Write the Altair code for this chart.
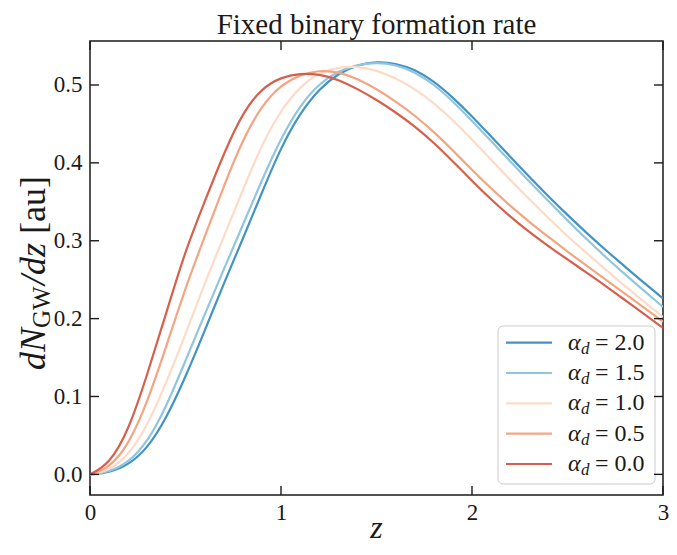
import altair as alt
import pandas as pd

# ---------------- data ----------------
z = [0.0, 0.1, 0.2, 0.3, 0.4, 0.5, 0.6, 0.7, 0.8, 0.9, 1.0,
     1.1, 1.2, 1.3, 1.4, 1.5, 1.6, 1.7, 1.8, 1.9, 2.0,
     2.1, 2.2, 2.3, 2.4, 2.5, 2.6, 2.7, 2.8, 2.9, 3.0]

alphas = ["2.0", "1.5", "1.0", "0.5", "0.0"]
colors = ["#4393c3", "#92c5de", "#fddbc7", "#f4a582", "#d6604d"]

dn_a20 = [0.0, 0.002, 0.012, 0.033, 0.072, 0.125, 0.184, 0.245, 0.302, 0.362, 0.420,
          0.464, 0.495, 0.515, 0.526, 0.530, 0.528, 0.520, 0.505, 0.484, 0.460,
          0.434, 0.408, 0.382, 0.357, 0.333, 0.310, 0.288, 0.267, 0.246, 0.226]
dn_a15 = [0.0, 0.003, 0.015, 0.041, 0.087, 0.146, 0.205, 0.263, 0.320, 0.378, 0.432,
          0.474, 0.502, 0.518, 0.526, 0.529, 0.526, 0.517, 0.501, 0.479, 0.454,
          0.428, 0.402, 0.376, 0.351, 0.326, 0.302, 0.279, 0.257, 0.236, 0.215]
dn_a10 = [0.0, 0.005, 0.024, 0.062, 0.118, 0.180, 0.245, 0.305, 0.365, 0.424, 0.468,
          0.498, 0.516, 0.523, 0.524, 0.519, 0.509, 0.495, 0.477, 0.455, 0.430,
          0.404, 0.378, 0.353, 0.329, 0.306, 0.284, 0.263, 0.242, 0.222, 0.202]
dn_a05 = [0.0, 0.008, 0.037, 0.092, 0.165, 0.240, 0.305, 0.370, 0.430, 0.474, 0.500,
          0.513, 0.519, 0.517, 0.508, 0.495, 0.479, 0.461, 0.440, 0.416, 0.391,
          0.367, 0.345, 0.324, 0.305, 0.286, 0.268, 0.250, 0.232, 0.214, 0.196]
dn_a00 = [0.0, 0.013, 0.055, 0.128, 0.208, 0.288, 0.350, 0.412, 0.465, 0.496, 0.510,
          0.515, 0.514, 0.507, 0.495, 0.481, 0.465, 0.447, 0.426, 0.402, 0.377,
          0.353, 0.331, 0.311, 0.293, 0.276, 0.259, 0.242, 0.224, 0.206, 0.188]

series = [dn_a20, dn_a15, dn_a10, dn_a05, dn_a00]

x_ticks = [0, 1, 2, 3]
y_ticks = [0.0, 0.1, 0.2, 0.3, 0.4, 0.5]
x_domain = [0, 3]
y_domain = [-0.0265, 0.5565]

title_text = "Fixed binary formation rate"
x_title = "z"

# ---------------- tables ----------------
rows = []
for a, vals in zip(alphas, series):
    for zi, v in zip(z, vals):
        rows.append({"alpha": a, "z": zi, "v": v})
df = pd.DataFrame(rows)

leg = pd.DataFrame({"alpha": alphas, "idx": list(range(len(alphas)))})
one = pd.DataFrame({"k": [0]})

W, H = 573, 454
SERIF = "Liberation Serif"
INK = "#1a1a1a"

xs = alt.Scale(domain=x_domain, nice=False, zero=False)
ys = alt.Scale(domain=y_domain, nice=False, zero=False)
cs = alt.Scale(domain=alphas, range=colors)

x_axis = alt.Axis(values=x_ticks, format="d", title=None, labelPadding=6, labelFlush=False)

lines = alt.Chart(df).mark_line(strokeWidth=2.2, interpolate="basis", clip=True).encode(
    x=alt.X("z:Q", scale=xs, axis=x_axis),
    y=alt.Y("v:Q", scale=ys,
            axis=alt.Axis(values=y_ticks, format=".1f", title=None, labelPadding=8,
                          labelFlush=False)),
    color=alt.Color("alpha:N", scale=cs, legend=None),
)

xt = pd.DataFrame({"z": x_ticks})
yt = pd.DataFrame({"t": y_ticks})
TL = 9
tick_bottom = alt.Chart(xt).mark_rule(color=INK, strokeWidth=1.4).encode(
    x=alt.X("z:Q", scale=xs, axis=x_axis), y=alt.value(H), y2=alt.value(H - TL))
tick_top = alt.Chart(xt).mark_rule(color=INK, strokeWidth=1.4).encode(
    x=alt.X("z:Q", scale=xs, axis=x_axis), y=alt.value(0), y2=alt.value(TL))
tick_left = alt.Chart(yt).mark_rule(color=INK, strokeWidth=1.4).encode(
    y=alt.Y("t:Q", scale=ys, axis=None), x=alt.value(0), x2=alt.value(TL))
tick_right = alt.Chart(yt).mark_rule(color=INK, strokeWidth=1.4).encode(
    y=alt.Y("t:Q", scale=ys, axis=None), x=alt.value(W), x2=alt.value(W - TL))

# titles
title = alt.Chart(one).mark_text(text=title_text, font=SERIF, fontSize=29, color=INK,
                                 align="center", baseline="alphabetic").encode(
    x=alt.value(W / 2), y=alt.value(-7))
xlab = alt.Chart(one).mark_text(text=x_title, font=SERIF, fontSize=32, fontStyle="italic",
                                color=INK, align="center", baseline="alphabetic").encode(
    x=alt.value(W / 2), y=alt.value(H + 43))

# y-axis title pieces (rotated, read bottom-to-top)
def ypiece(txt, x, y, size, style):
    return alt.Chart(one).mark_text(text=txt, font=SERIF, fontSize=size, fontStyle=style,
                                    color=INK, angle=270, align="left",
                                    baseline="alphabetic").encode(
        x=alt.value(x), y=alt.value(y))

yt1 = ypiece("dN", -45, 329, 36, "italic")
yt2 = ypiece("GW", -40, 287, 25, "normal")
yt3 = ypiece("/dz", -45, 244, 36, "italic")
yt4 = ypiece("[au]", -45, 193, 36, "normal")

# legend (anchored to the right edge of the plot)
R = W
box = alt.Chart(one).mark_rect(fill="white", fillOpacity=0.8, stroke="#cccccc",
                               strokeWidth=1, cornerRadius=5).encode(
    x=alt.value(R - 165), x2=alt.value(R - 8), y=alt.value(285), y2=alt.value(443))

ly = alt.Y("idx:Q", scale=alt.Scale(domain=[0, 4], range=[301.7, 423]), axis=None)
leg_lines = alt.Chart(leg).mark_rule(strokeWidth=2.2).encode(
    x=alt.value(R - 157), x2=alt.value(R - 111), y=ly,
    color=alt.Color("alpha:N", scale=cs, legend=None))
leg_a = alt.Chart(leg).mark_text(text="α", font=SERIF, fontSize=24, fontStyle="italic",
                                 color=INK, align="left", baseline="alphabetic", dy=7).encode(
    x=alt.value(R - 95), y=ly)
leg_d = alt.Chart(leg).mark_text(text="d", font=SERIF, fontSize=17, fontStyle="italic",
                                 color=INK, align="left", baseline="alphabetic", dy=11).encode(
    x=alt.value(R - 82), y=ly)
leg_v = alt.Chart(leg).transform_calculate(lab="'= ' + datum.alpha").mark_text(
    font=SERIF, fontSize=24, color=INK, align="left", baseline="alphabetic", dy=7).encode(
    x=alt.value(R - 68), y=ly, text="lab:N")

chart = alt.layer(
    lines, box, leg_lines, leg_a, leg_d, leg_v,
    tick_bottom, tick_top, tick_left, tick_right,
    title, xlab, yt1, yt2, yt3, yt4,
).resolve_scale(y="independent").properties(
    width=W, height=H,
    autosize=alt.AutoSizeParams(type="none"),
    padding={"left": 82, "top": 33, "right": 6, "bottom": 51},
).configure_view(
    stroke=INK, strokeWidth=1.5
).configure_axis(
    domain=False, ticks=False, grid=False,
    labelFont=SERIF, labelFontSize=23, labelColor=INK,
)

chart.save("out.html", embed_options={"renderer": "svg", "actions": False})
